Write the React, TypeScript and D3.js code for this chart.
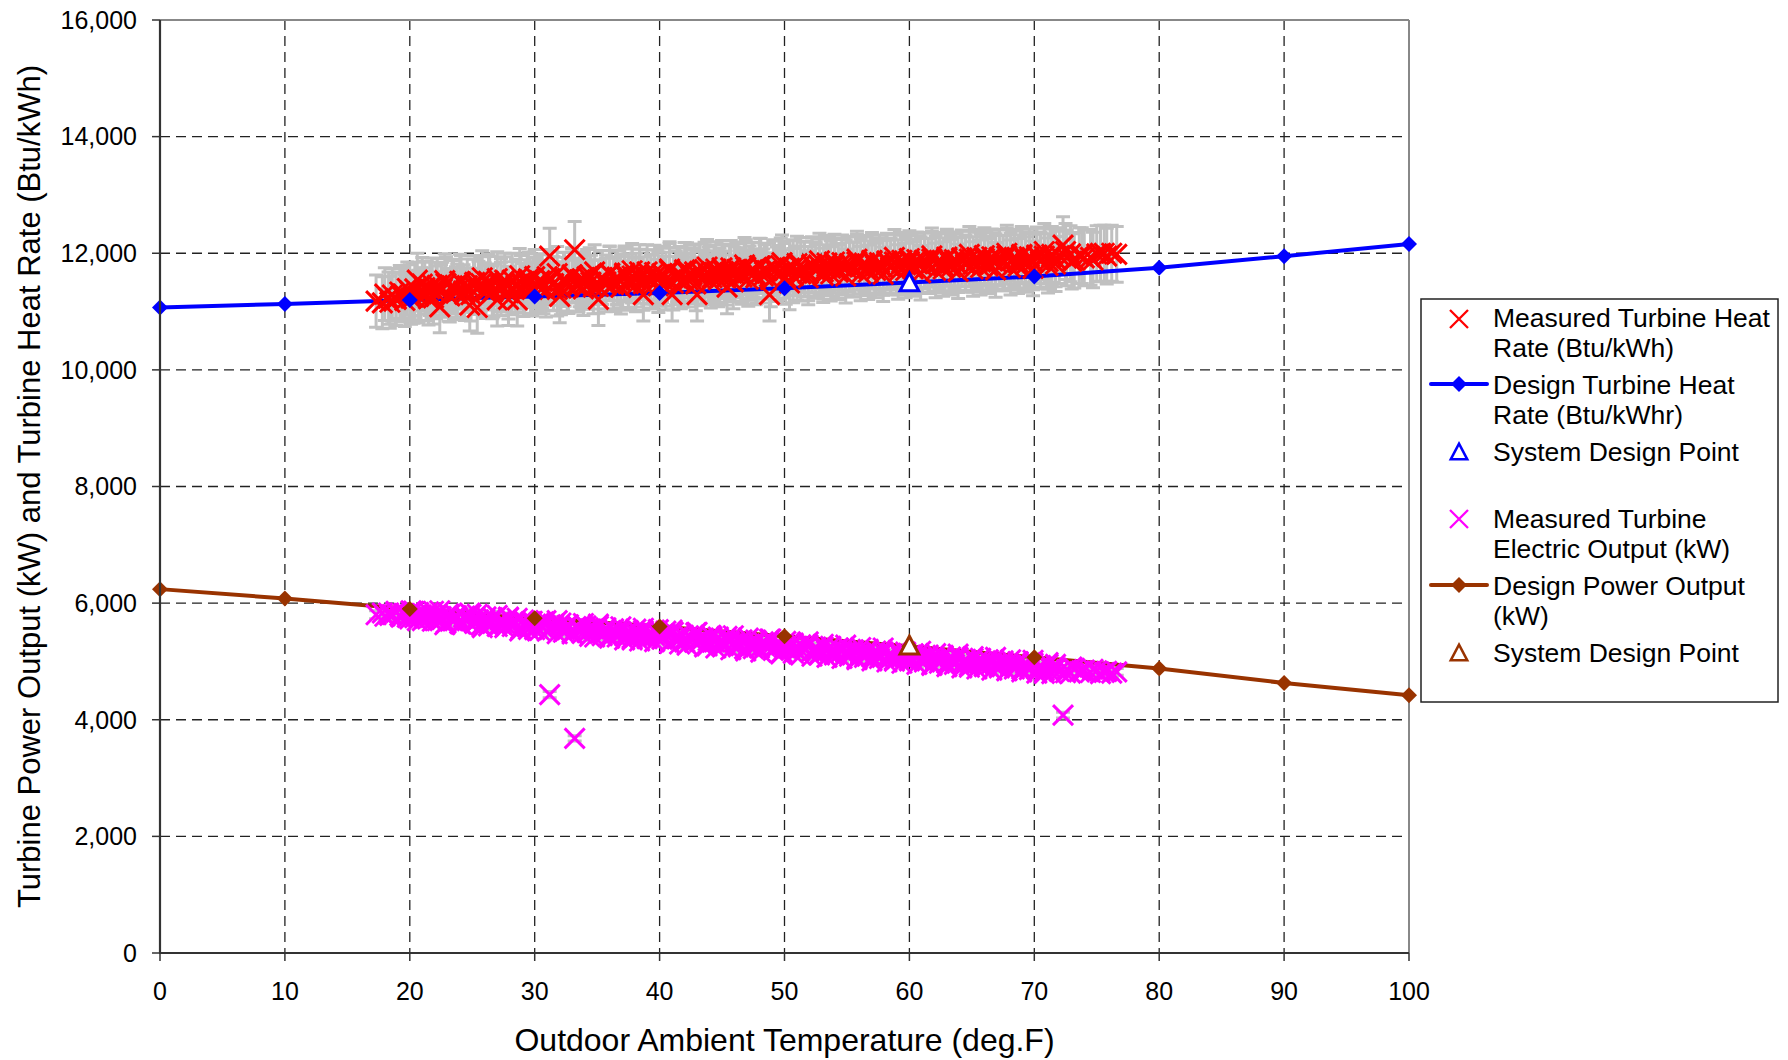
import React, { useEffect } from "react";
import * as d3 from "d3";

// ---------------- DATA ----------------
const designTemps = [0, 10, 20, 30, 40, 50, 60, 70, 80, 90, 100];
const designHeatRate = [11070, 11130, 11200, 11260, 11320, 11400, 11500, 11600, 11750, 11950, 12160];
const designPower = [6240, 6080, 5900, 5740, 5600, 5430, 5260, 5070, 4880, 4630, 4420];

const sysPointTemp = [60];
const sysPointHeatRate = [11480];
const sysPointPower = [5250];

// measured observations, first logging period: [temperature degF, heat rate Btu/kWh, electric output kW]
const measuredA: [number, number, number][] = [
  [17.3, 11180, 5800], [17.8, 11150, 5830], [18.4, 11160, 5790], [18.9, 11210, 5840],
  [19.3, 11280, 5760], [19.6, 11190, 5820], [20.0, 11350, 5730], [20.3, 11250, 5860],
  [20.6, 11540, 5700], [20.9, 11300, 5800], [21.2, 11410, 5740], [21.5, 11220, 5850],
  [21.8, 11460, 5690], [22.1, 11330, 5780], [22.4, 11080, 5870], [22.6, 11390, 5720],
  [22.9, 11480, 5660], [23.2, 11270, 5800], [23.5, 11420, 5700], [23.8, 11360, 5760],
  [24.1, 11500, 5640], [24.4, 11300, 5780], [24.8, 11110, 5830], [25.1, 11440, 5680],
  [25.4, 11070, 5810], [25.7, 11480, 5620], [26.0, 11380, 5720], [26.3, 11520, 5610],
  [26.6, 11330, 5750], [27.0, 11200, 5790], [27.3, 11450, 5640], [27.6, 11540, 5580],
  [27.9, 11210, 5760], [28.2, 11400, 5650], [28.6, 11200, 5740], [28.9, 11500, 5560],
  [29.2, 11430, 5660], [29.5, 11560, 5550], [29.8, 11380, 5690], [30.1, 11470, 5600],
  [30.4, 11530, 5530], [30.7, 11420, 5680], [31.0, 11600, 5520], [31.2, 11950, 4430],
  [31.5, 11480, 5640], [31.8, 11380, 5700], [32.0, 11260, 5600], [32.3, 11550, 5500],
  [32.6, 11470, 5620], [33.0, 11610, 5470], [33.2, 12060, 3680], [33.5, 11450, 5590],
  [33.8, 11560, 5480], [34.1, 11500, 5610], [34.4, 11630, 5430], [34.7, 11420, 5560],
  [35.1, 11210, 5640], [35.4, 11580, 5440], [35.7, 11510, 5530], [36.0, 11650, 5400],
  [36.3, 11460, 5560], [36.6, 11590, 5420], [36.9, 11520, 5510], [37.2, 11660, 5370],
  [37.5, 11480, 5530], [37.8, 11610, 5400], [38.1, 11540, 5480], [38.4, 11680, 5350],
  [38.7, 11290, 5570], [39.0, 11590, 5410], [39.3, 11520, 5500], [39.6, 11670, 5340],
  [39.9, 11560, 5460], [40.2, 11620, 5380], [40.5, 11490, 5520], [40.8, 11700, 5310],
  [41.0, 11290, 5540], [41.3, 11580, 5400], [41.6, 11650, 5300], [41.9, 11540, 5450],
  [42.2, 11710, 5280], [42.5, 11600, 5410], [42.8, 11680, 5330], [43.0, 11290, 5500],
  [43.3, 11560, 5380], [43.6, 11720, 5250], [43.9, 11640, 5360], [44.2, 11580, 5420],
  [44.5, 11730, 5230], [44.8, 11620, 5340], [45.1, 11690, 5270], [45.4, 11420, 5430],
  [45.7, 11750, 5200], [46.0, 11640, 5330], [46.3, 11700, 5250], [46.6, 11590, 5370],
  [46.9, 11760, 5180], [47.2, 11660, 5300], [47.5, 11720, 5220], [47.8, 11610, 5340],
  [48.1, 11780, 5160], [48.4, 11680, 5270], [48.8, 11290, 5380], [49.1, 11740, 5190],
  [49.4, 11640, 5290], [49.7, 11790, 5130], [50.0, 11700, 5240], [50.4, 11490, 5320],
  [50.7, 11760, 5140], [51.0, 11660, 5260], [51.3, 11800, 5110], [51.6, 11720, 5220],
  [51.9, 11650, 5280], [52.2, 11810, 5090], [52.5, 11730, 5200], [52.8, 11780, 5130],
  [53.1, 11680, 5250], [53.4, 11830, 5070], [53.7, 11740, 5180], [54.0, 11790, 5110],
  [54.3, 11700, 5230], [54.6, 11840, 5050], [54.9, 11760, 5160], [55.2, 11810, 5090],
  [55.5, 11720, 5200], [55.8, 11850, 5030], [56.1, 11770, 5140], [56.4, 11830, 5070],
  [56.7, 11740, 5180], [57.0, 11860, 5010], [57.3, 11780, 5120], [57.6, 11840, 5050],
  [57.9, 11750, 5160], [58.2, 11870, 4990], [58.5, 11790, 5100], [58.8, 11850, 5030],
  [59.1, 11760, 5150], [59.4, 11880, 4970], [59.7, 11800, 5080], [60.0, 11860, 5010],
  [60.3, 11770, 5130], [60.6, 11890, 4950], [60.9, 11810, 5060], [61.2, 11870, 4990],
  [61.5, 11780, 5110], [61.8, 11900, 4930], [62.1, 11820, 5040], [62.4, 11880, 4970],
  [62.7, 11790, 5090], [63.0, 11910, 4910], [63.3, 11830, 5020], [63.6, 11890, 4950],
  [63.9, 11800, 5070], [64.2, 11920, 4890], [64.5, 11840, 5000], [64.8, 11900, 4930],
  [65.1, 11810, 5050], [65.4, 11930, 4870], [65.7, 11850, 4980], [66.0, 11910, 4910],
  [66.3, 11820, 5030], [66.6, 11940, 4850], [66.9, 11860, 4960], [67.2, 11920, 4890],
  [67.5, 11830, 5010], [67.8, 11950, 4840], [68.1, 11870, 4940], [68.4, 11930, 4870],
  [68.7, 11840, 4990], [69.0, 11960, 4820], [69.3, 11880, 4920], [69.6, 11940, 4860],
  [69.9, 11850, 4970], [70.2, 11970, 4800], [70.5, 11890, 4900], [70.8, 11950, 4840],
  [71.1, 11860, 4950], [71.4, 11980, 4790], [71.7, 11900, 4880], [72.0, 11960, 4830],
  [72.3, 12140, 4080], [72.6, 11920, 4860], [72.9, 11990, 4800], [73.2, 11880, 4880],
  [73.6, 11960, 4820], [74.0, 11920, 4850], [74.5, 11930, 4810], [75.0, 11990, 4840],
  [75.3, 12000, 4790], [75.8, 11950, 4830], [76.2, 12000, 4800], [76.6, 11980, 4820],
];

// measured observations, second logging period
const measuredB: [number, number, number][] = [
  [18.0, 11300, 5775], [18.3, 11230, 5830], [18.6, 11285, 5805], [18.9, 11220, 5860],
  [19.2, 11335, 5785], [19.5, 11300, 5820], [19.8, 11395, 5755], [20.1, 11230, 5870],
  [20.4, 11390, 5750], [20.7, 11260, 5840], [21.0, 11470, 5700], [21.3, 11295, 5810],
  [21.6, 11390, 5750], [21.9, 11235, 5860], [22.2, 11450, 5700], [22.5, 11355, 5770],
  [22.8, 11530, 5630], [23.1, 11285, 5815], [23.4, 11440, 5700], [23.7, 11315, 5785],
  [24.0, 11520, 5650], [24.3, 11350, 5755], [24.6, 11445, 5700], [24.9, 11290, 5805],
  [25.2, 11500, 5650], [25.5, 11405, 5715], [25.8, 11580, 5580], [26.1, 11335, 5765],
  [26.4, 11485, 5650], [26.7, 11360, 5735], [27.0, 11565, 5600], [27.3, 11390, 5705],
  [27.6, 11480, 5650], [27.9, 11325, 5750], [28.2, 11540, 5600], [28.5, 11440, 5660],
  [28.8, 11615, 5525], [29.1, 11370, 5710], [29.4, 11525, 5595], [29.7, 11395, 5680],
  [30.0, 11600, 5545], [30.3, 11425, 5650], [30.6, 11515, 5595], [30.9, 11360, 5700],
  [31.2, 11570, 5545], [31.5, 11475, 5610], [31.8, 11650, 5475], [32.1, 11400, 5660],
  [32.4, 11555, 5545], [32.7, 11425, 5630], [33.0, 11630, 5495], [33.3, 11455, 5600],
  [33.6, 11545, 5545], [33.9, 11390, 5650], [34.2, 11600, 5495], [34.5, 11505, 5555],
  [34.8, 11680, 5420], [35.1, 11430, 5605], [35.4, 11585, 5490], [35.7, 11455, 5575],
  [36.0, 11660, 5440], [36.3, 11480, 5545], [36.6, 11575, 5490], [36.9, 11415, 5595],
  [37.2, 11630, 5440], [37.5, 11530, 5505], [37.8, 11700, 5370], [38.1, 11455, 5555],
  [38.4, 11605, 5440], [38.7, 11480, 5525], [39.0, 11680, 5390], [39.3, 11505, 5495],
  [39.6, 11595, 5440], [39.9, 11440, 5545], [40.2, 11650, 5390], [40.5, 11555, 5455],
  [40.8, 11730, 5320], [41.1, 11485, 5500], [41.4, 11635, 5385], [41.7, 11510, 5470],
  [42.0, 11715, 5335], [42.3, 11540, 5440], [42.6, 11630, 5385], [42.9, 11475, 5490],
  [43.2, 11690, 5335], [43.5, 11590, 5400], [43.8, 11765, 5265], [44.1, 11520, 5450],
  [44.4, 11675, 5335], [44.7, 11545, 5420], [45.0, 11750, 5285], [45.3, 11575, 5390],
  [45.6, 11665, 5335], [45.9, 11510, 5440], [46.2, 11725, 5285], [46.5, 11630, 5350],
  [46.8, 11800, 5215], [47.1, 11555, 5400], [47.4, 11710, 5280], [47.7, 11580, 5365],
  [48.0, 11785, 5230], [48.3, 11610, 5335], [48.6, 11705, 5280], [48.9, 11545, 5385],
  [49.2, 11760, 5230], [49.5, 11665, 5295], [49.8, 11840, 5160], [50.1, 11590, 5345],
  [50.4, 11745, 5230], [50.7, 11615, 5315], [51.0, 11820, 5180], [51.3, 11645, 5285],
  [51.6, 11735, 5230], [51.9, 11580, 5335], [52.2, 11790, 5180], [52.5, 11695, 5245],
  [52.8, 11870, 5110], [53.1, 11620, 5295], [53.4, 11775, 5180], [53.7, 11645, 5260],
  [54.0, 11850, 5125], [54.3, 11675, 5230], [54.6, 11765, 5175], [54.9, 11610, 5280],
  [55.2, 11820, 5125], [55.5, 11725, 5190], [55.8, 11900, 5055], [56.1, 11650, 5240],
  [56.4, 11805, 5125], [56.7, 11675, 5210], [57.0, 11880, 5075], [57.3, 11705, 5180],
  [57.6, 11795, 5125], [57.9, 11640, 5230], [58.2, 11850, 5075], [58.5, 11755, 5140],
  [58.8, 11930, 5005], [59.1, 11680, 5190], [59.4, 11835, 5075], [59.7, 11705, 5160],
  [60.0, 11910, 5020], [60.3, 11730, 5125], [60.6, 11825, 5070], [60.9, 11665, 5175],
  [61.2, 11880, 5020], [61.5, 11780, 5085], [61.8, 11955, 4950], [62.1, 11705, 5135],
  [62.4, 11860, 5020], [62.7, 11730, 5105], [63.0, 11935, 4970], [63.3, 11755, 5075],
  [63.6, 11850, 5020], [63.9, 11690, 5125], [64.2, 11905, 4970], [64.5, 11805, 5035],
  [64.8, 11980, 4900], [65.1, 11730, 5085], [65.4, 11885, 4970], [65.7, 11755, 5055],
  [66.0, 11960, 4920], [66.3, 11780, 5020], [66.6, 11875, 4965], [66.9, 11715, 5070],
  [67.2, 11930, 4915], [67.5, 11830, 4980], [67.8, 12000, 4845], [68.1, 11755, 5030],
  [68.4, 11905, 4915], [68.7, 11780, 5000], [69.0, 11980, 4865], [69.3, 11805, 4970],
  [69.6, 11895, 4915], [69.9, 11740, 5020], [70.2, 11955, 4865], [70.5, 11860, 4930],
  [70.8, 12030, 4795], [71.1, 11790, 4980], [71.4, 11940, 4865], [71.7, 11815, 4950],
  [72.5, 12030, 4805], [73.0, 11860, 4905], [73.8, 11960, 4840], [74.7, 11885, 4865],
  [75.6, 12000, 4810],
];

const heatRateErrFraction = 0.04;
const powerErrFraction = 0.012;

const xTicks = [0, 10, 20, 30, 40, 50, 60, 70, 80, 90, 100];
const yTicks = [0, 2000, 4000, 6000, 8000, 10000, 12000, 14000, 16000];

const xTitle = "Outdoor Ambient Temperature (deg.F)";
const yTitle = "Turbine Power Output (kW) and Turbine Heat Rate (Btu/kWh)";

const legendLabels: string[][] = [
  ["Measured Turbine Heat", "Rate (Btu/kWh)"],
  ["Design Turbine Heat", "Rate (Btu/kWhr)"],
  ["System Design Point"],
  ["Measured Turbine", "Electric Output (kW)"],
  ["Design Power Output", "(kW)"],
  ["System Design Point"],
];

// ---------------- STYLE ----------------
const W = 1788;
const H = 1060;
const PL = 160, PR = 1409, PT = 20, PB = 953;
const FONT = "'Liberation Sans', Arial, Helvetica, sans-serif";
const RED = "#ff0000";
const BLUE = "#0000ff";
const MAGENTA = "#ff00ff";
const BROWN = "#993300";
const GRAY = "#c0c0c0";

const xPath = (h: number) => `M${-h},${-h}L${h},${h}M${-h},${h}L${h},${-h}`;
const diamondPath = (h: number) => `M0,${-h}L${h},0L0,${h}L${-h},0Z`;
const triPath = (s: number) => `M0,${-s * 0.62}L${s * 0.55},${s * 0.42}L${-s * 0.55},${s * 0.42}Z`;

export default function App() {
  useEffect(() => {
    document.body.style.margin = "0";
  }, []);

  const measured = [...measuredA, ...measuredB];

  const x = d3.scaleLinear().domain([0, 100]).range([PL, PR]);
  const y = d3.scaleLinear().domain([0, 16000]).range([PB, PT]);
  const fmt = d3.format(",");

  const line = d3
    .line<[number, number]>()
    .x((d) => x(d[0]))
    .y((d) => y(d[1]));

  const hrLine = line(designTemps.map((t, i) => [t, designHeatRate[i]]) as [number, number][]) || "";
  const pwLine = line(designTemps.map((t, i) => [t, designPower[i]]) as [number, number][]) || "";

  const errBar = (t: number, v: number, frac: number, key: string) => {
    const cx = x(t);
    const y1 = y(v * (1 + frac));
    const y2 = y(v * (1 - frac));
    const cap = 7;
    return (
      <path
        key={key}
        d={`M${cx},${y1}L${cx},${y2}M${cx - cap},${y1}L${cx + cap},${y1}M${cx - cap},${y2}L${cx + cap},${y2}`}
        stroke={GRAY}
        strokeWidth={3}
        fill="none"
      />
    );
  };

  const legX = 1421, legY = 299, legW = 357, legH = 403;
  const markX = 1459;
  const textX = 1493;

  return (
    <svg width={W} height={H} viewBox={`0 0 ${W} ${H}`} style={{ display: "block", background: "#fff" }} fontFamily={FONT}>
      <rect x={0} y={0} width={W} height={H} fill="#fff" />

      {/* gridlines */}
      {yTicks.slice(1, -1).map((t) => (
        <line key={"gy" + t} x1={PL} x2={PR} y1={y(t)} y2={y(t)} stroke="#222" strokeWidth={1.3} strokeDasharray="10,6" />
      ))}
      {xTicks.slice(1, -1).map((t) => (
        <line key={"gx" + t} x1={x(t)} x2={x(t)} y1={PT} y2={PB} stroke="#222" strokeWidth={1.3} strokeDasharray="10,6" />
      ))}

      {/* plot border top / right */}
      <line x1={PL} x2={PR} y1={PT} y2={PT} stroke="#888" strokeWidth={2} />
      <line x1={PR} x2={PR} y1={PT} y2={PB} stroke="#888" strokeWidth={2} />

      {/* heat rate series */}
      <g>{measured.map((d, i) => errBar(d[0], d[1], heatRateErrFraction, "ehr" + i))}</g>
      <path d={hrLine} stroke={BLUE} strokeWidth={4} fill="none" strokeLinejoin="round" />
      <g>
        {measured.map((d, i) => (
          <path key={"mhr" + i} d={xPath(10)} transform={`translate(${x(d[0])},${y(d[1])})`} stroke={RED} strokeWidth={3} fill="none" />
        ))}
      </g>
      <g>
        {designTemps.map((t, i) => (
          <path key={"dhr" + i} d={diamondPath(8)} transform={`translate(${x(t)},${y(designHeatRate[i])})`} fill={BLUE} />
        ))}
      </g>
      {sysPointTemp.map((t, i) => (
        <path key={"shr" + i} d={triPath(17)} transform={`translate(${x(t)},${y(sysPointHeatRate[i])})`} fill="#fff" stroke={BLUE} strokeWidth={3} />
      ))}

      {/* power series */}
      <g>{measured.map((d, i) => errBar(d[0], d[2], powerErrFraction, "epw" + i))}</g>
      <path d={pwLine} stroke={BROWN} strokeWidth={4} fill="none" strokeLinejoin="round" />
      <g>
        {measured.map((d, i) => (
          <path key={"mpw" + i} d={xPath(10)} transform={`translate(${x(d[0])},${y(d[2])})`} stroke={MAGENTA} strokeWidth={3} fill="none" />
        ))}
      </g>
      <g>
        {designTemps.map((t, i) => (
          <path key={"dpw" + i} d={diamondPath(8)} transform={`translate(${x(t)},${y(designPower[i])})`} fill={BROWN} />
        ))}
      </g>
      {sysPointTemp.map((t, i) => (
        <path key={"spw" + i} d={triPath(17)} transform={`translate(${x(t)},${y(sysPointPower[i])})`} fill="#fff" stroke={BROWN} strokeWidth={3} />
      ))}

      {/* axes */}
      <line x1={PL} x2={PL} y1={PT} y2={PB} stroke="#333" strokeWidth={2.2} />
      <line x1={PL - 1} x2={PR} y1={PB} y2={PB} stroke="#333" strokeWidth={2.2} />
      {yTicks.map((t) => (
        <g key={"yt" + t}>
          <line x1={PL - 8} x2={PL} y1={y(t)} y2={y(t)} stroke="#333" strokeWidth={1.5} />
          <text x={137} y={y(t)} dy="0.35em" textAnchor="end" fontSize={25} fill="#000">
            {fmt(t)}
          </text>
        </g>
      ))}
      {xTicks.map((t) => (
        <g key={"xt" + t}>
          <line x1={x(t)} x2={x(t)} y1={PB} y2={PB + 8} stroke="#333" strokeWidth={1.5} />
          <text x={x(t)} y={991} dy="0.35em" textAnchor="middle" fontSize={25} fill="#000">
            {t}
          </text>
        </g>
      ))}

      {/* axis titles */}
      <text x={(PL + PR) / 2} y={1040} dy="0.35em" textAnchor="middle" fontSize={32} fill="#000">
        {xTitle}
      </text>
      <text transform={`translate(29,${(PT + PB) / 2}) rotate(-90)`} dy="0.35em" textAnchor="middle" fontSize={31} fill="#000">
        {yTitle}
      </text>

      {/* legend */}
      <rect x={legX} y={legY} width={legW} height={legH} fill="#fff" stroke="#222" strokeWidth={1.5} />
      {legendLabels.map((lines, i) => {
        const cy = 318 + 67 * i;
        let marker: React.ReactNode = null;
        if (i === 0) marker = <path d={xPath(9)} transform={`translate(${markX},${cy + 1})`} stroke={RED} strokeWidth={2.3} fill="none" />;
        if (i === 3) marker = <path d={xPath(9)} transform={`translate(${markX},${cy})`} stroke={MAGENTA} strokeWidth={2.3} fill="none" />;
        if (i === 1 || i === 4) {
          const c = i === 1 ? BLUE : BROWN;
          marker = (
            <g>
              <line x1={1431} x2={1487} y1={cy - 1} y2={cy - 1} stroke={c} strokeWidth={4} strokeLinecap="round" />
              <path d={diamondPath(8)} transform={`translate(${markX},${cy - 1})`} fill={c} />
            </g>
          );
        }
        if (i === 2 || i === 5) {
          const c = i === 2 ? BLUE : BROWN;
          marker = <path d={triPath(15)} transform={`translate(${markX},${cy + 1})`} fill="#fff" stroke={c} strokeWidth={2.5} />;
        }
        return (
          <g key={"leg" + i}>
            {marker}
            {lines.map((s, j) => (
              <text key={j} x={textX} y={cy + 30 * j} dy="0.35em" fontSize={26.5} fill="#000">
                {s}
              </text>
            ))}
          </g>
        );
      })}
    </svg>
  );
}
